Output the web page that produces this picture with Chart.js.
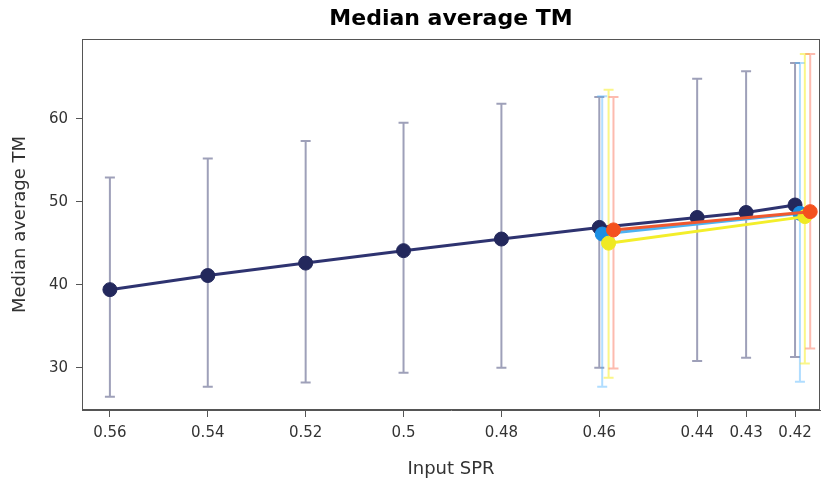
<!DOCTYPE html>
<html>
<head>
<meta charset="utf-8">
<script src="https://cdn.jsdelivr.net/npm/chart.js@4"></script>
<style>
  body { margin: 0; background: #fff; }
  canvas { display: block; }
</style>
</head>
<body>
<canvas id="tmChart" width="822" height="480"></canvas>
<script>
// tick labels
const xTicks = [0.56, 0.54, 0.52, 0.5, 0.48, 0.46, 0.44, 0.43, 0.42];
const yTicks = [30, 40, 50, 60];

// main series (navy)
const navySpr = [0.56, 0.54, 0.52, 0.5, 0.48, 0.46, 0.44, 0.43, 0.42];
const navyMed = [39.4, 41.1, 42.6, 44.1, 45.5, 46.9, 48.1, 48.7, 49.6];
const navyLow = [26.5, 27.7, 28.2, 29.4, 30.0, 30.0, 30.8, 31.2, 31.3];
const navyHigh = [52.9, 55.2, 57.3, 59.5, 61.8, 62.6, 64.8, 65.7, 66.7];

// light blue series
const blueSpr = [0.4594, 0.419];
const blueMed = [46.1, 48.6];
const blueLow = [27.7, 28.3];
const blueHigh = [62.7, 66.7];

// yellow series
const yellowSpr = [0.4581, 0.418];
const yellowMed = [45.0, 48.2];
const yellowLow = [28.8, 30.5];
const yellowHigh = [63.5, 67.8];

// orange series
const orangeSpr = [0.4571, 0.4169];
const orangeMed = [46.6, 48.8];
const orangeLow = [29.9, 32.3];
const orangeHigh = [62.6, 67.8];

const pts = (xs, ys) => xs.map((x, i) => ({ x: x, y: ys[i] }));

const errorBars = {
  id: "errorBars",
  beforeDatasetsDraw(chart) {
    const ctx = chart.ctx;
    const xs = chart.scales.x;
    const ys = chart.scales.y;
    chart.data.datasets.slice().reverse().forEach((ds) => {
      ctx.save();
      ctx.strokeStyle = ds.errColor;
      ctx.lineWidth = 2;
      ds.data.forEach((p, i) => {
        const px = xs.getPixelForValue(p.x);
        const top = ys.getPixelForValue(ds.errHigh[i]);
        const bot = ys.getPixelForValue(ds.errLow[i]);
        ctx.beginPath();
        ctx.moveTo(px, top);
        ctx.lineTo(px, bot);
        ctx.moveTo(px - 5, top);
        ctx.lineTo(px + 5, top);
        ctx.moveTo(px - 5, bot);
        ctx.lineTo(px + 5, bot);
        ctx.stroke();
      });
      ctx.restore();
    });
  },
};

const frame = {
  id: "frame",
  afterDraw(chart) {
    const { left, right, top, bottom } = chart.chartArea;
    const ctx = chart.ctx;
    ctx.save();
    ctx.strokeStyle = "#555";
    ctx.lineWidth = 1;
    ctx.strokeRect(left + 0.5, top + 0.5, right - left - 1, bottom - top - 1);
    ctx.restore();
  },
};

const ctx = document.getElementById("tmChart").getContext("2d");

new Chart(ctx, {
  type: "line",
  data: {
    datasets: [
      {
        label: "orange",
        data: pts(orangeSpr, orangeMed),
        errLow: orangeLow,
        errHigh: orangeHigh,
        errColor: "rgba(252, 120, 95, 0.5)",
        borderColor: "#f0582f",
        backgroundColor: "#f4511e",
        pointBorderColor: "#f4511e",
      },
      {
        label: "yellow",
        data: pts(yellowSpr, yellowMed),
        errLow: yellowLow,
        errHigh: yellowHigh,
        errColor: "rgba(245, 238, 40, 0.55)",
        borderColor: "#f3ee2a",
        backgroundColor: "#efe923",
        pointBorderColor: "#efe923",
      },
      {
        label: "blue",
        data: pts(blueSpr, blueMed),
        errLow: blueLow,
        errHigh: blueHigh,
        errColor: "rgba(80, 180, 255, 0.45)",
        borderColor: "#4cb2f2",
        backgroundColor: "#1c8fe3",
        pointBorderColor: "#1c8fe3",
      },
      {
        label: "navy",
        data: pts(navySpr, navyMed),
        errLow: navyLow,
        errHigh: navyHigh,
        errColor: "rgba(40, 45, 100, 0.45)",
        borderColor: "#2e3370",
        backgroundColor: "#23285c",
        pointBorderColor: "#23285c",
      },
    ],
  },
  options: {
    responsive: false,
    animation: false,
    events: [],
    layout: { autoPadding: false, padding: { right: 2, top: 0, left: 0, bottom: 0 } },
    elements: {
      line: { borderWidth: 3, tension: 0 },
      point: { radius: 7, borderWidth: 1 },
    },
    plugins: {
      legend: { display: false },
      tooltip: { enabled: false },
      title: {
        display: true,
        text: "Median average TM",
        fullSize: false,
        color: "#000",
        font: { family: "DejaVu Sans", size: 22, weight: "bold" },
        padding: { top: 6, bottom: 6.6 },
      },
    },
    scales: {
      x: {
        type: "linear",
        reverse: true,
        min: 0.4149,
        max: 0.5657,
        afterBuildTicks: (scale) => {
          scale.ticks = xTicks.map((v) => ({ value: v }));
        },
        afterFit: (scale) => {
          scale.height = 70;
          scale.paddingLeft = 0;
          scale.paddingRight = 0;
        },
        ticks: {
          color: "#333",
          font: { family: "DejaVu Sans", size: 15 },
          padding: 7,
          maxRotation: 0,
          autoSkip: false,
          callback: (v) => String(v),
        },
        grid: {
          display: true,
          drawOnChartArea: false,
          drawTicks: true,
          tickLength: 7,
          color: "#555",
        },
        border: { display: true, color: "#555" },
        title: {
          display: true,
          text: "Input SPR",
          color: "#333",
          font: { family: "DejaVu Sans", size: 18 },
          padding: { top: 0, bottom: 0.2 },
        },
      },
      y: {
        type: "linear",
        min: 24.9,
        max: 69.6,
        afterBuildTicks: (scale) => {
          scale.ticks = yTicks.map((v) => ({ value: v }));
        },
        afterFit: (scale) => {
          scale.width = 82;
          scale.paddingTop = 0;
          scale.paddingBottom = 0;
        },
        ticks: {
          color: "#333",
          font: { family: "DejaVu Sans", size: 15 },
          padding: 8,
        },
        grid: {
          display: true,
          drawOnChartArea: false,
          drawTicks: true,
          tickLength: 6,
          color: "#555",
        },
        border: { display: true, color: "#555" },
        title: {
          display: true,
          text: "Median average TM",
          color: "#333",
          font: { family: "DejaVu Sans", size: 18 },
          padding: { top: 9.2, bottom: 0 },
        },
      },
    },
  },
  plugins: [errorBars, frame],
});
</script>
</body>
</html>
